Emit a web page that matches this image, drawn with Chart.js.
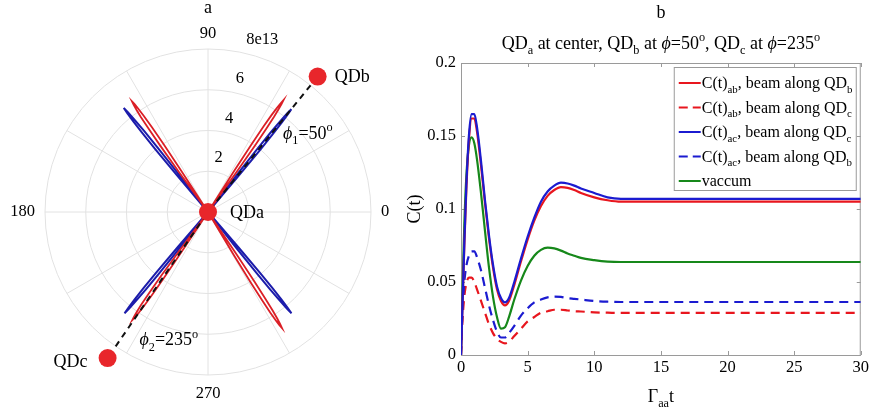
<!DOCTYPE html>
<html>
<head>
<meta charset="utf-8">
<script src="https://cdn.jsdelivr.net/npm/chart.js@4.4.1/dist/chart.umd.min.js"></script>
<style>
  body { margin: 0; background: #fff; width: 872px; height: 414px; overflow: hidden; position: relative; }
  #polar { position: absolute; left: 0; top: 0; }
  #curves { position: absolute; left: 400px; top: 0; }
</style>
</head>
<body>
<canvas id="polar" width="400" height="414"></canvas>
<canvas id="curves" width="472" height="414"></canvas>
<script>
// ---------- panel a : polar beam pattern (r in units of 1e13) ----------
var angleStep = 0.25;
var rTicks = [2, 4, 6, 8];
var rTickLabels = ['2', '4', '6', '8e13'];
var thetaLabels = [0, 90, 180, 270];

// each lobe: radii sampled every angleStep degrees across the lobe, centred on its angle
var redLobeAngles = [56, 124.5, 235, 302.5];
var redLobeRadii = [
    [0, 2.4, 4.0, 5.0, 5.7, 6.1, 6.4, 6.62, 6.4, 6.1, 5.7, 5.0, 4.0, 2.4, 0],
    [0, 2.4, 4.0, 5.0, 5.7, 6.1, 6.4, 6.58, 6.4, 6.1, 5.7, 5.0, 4.0, 2.4, 0],
    [0, 2.3, 3.9, 4.9, 5.6, 6.0, 6.3, 6.48, 6.3, 6.0, 5.6, 4.9, 3.9, 2.3, 0],
    [0, 2.5, 4.1, 5.1, 5.8, 6.25, 6.55, 6.75, 6.55, 6.25, 5.8, 5.1, 4.1, 2.5, 0]
];
var blueLobeAngles = [51, 129, 230.5, 309.5];
var blueLobeRadii = [
    [0, 2.4, 4.0, 5.0, 5.7, 6.2, 6.5, 6.2, 5.7, 5.0, 4.0, 2.4, 0],
    [0, 2.4, 4.0, 5.05, 5.75, 6.25, 6.57, 6.25, 5.75, 5.05, 4.0, 2.4, 0],
    [0, 2.3, 3.9, 4.9, 5.6, 6.1, 6.44, 6.1, 5.6, 4.9, 3.9, 2.3, 0],
    [0, 2.3, 3.9, 4.9, 5.6, 6.1, 6.44, 6.1, 5.6, 4.9, 3.9, 2.3, 0]
];

var beamAngles = [51, 235.5];
var beamRadius = 8;
var qdNames = ['QDa', 'QDb', 'QDc'];
var qdAngles = [0, 51, 235.5];
var qdRadii = [0, 8.55, 8.7];

// ---------- panel b : C(t) versus Gamma_aa t ----------
var tValues = [0, 0.1, 0.25, 0.4, 0.6, 0.8, 1.0, 1.2, 1.5, 1.8, 2.1, 2.4, 2.7, 3.0, 3.3, 3.6, 4.0, 4.5,
    5.0, 5.5, 6.0, 6.5, 7.0, 7.5, 8.0, 8.5, 9.0, 10, 11, 12, 14, 17, 20, 25, 30];
var abAlongB = [0, 0.030, 0.075, 0.113, 0.148, 0.162, 0.162, 0.153, 0.130, 0.104, 0.080, 0.060, 0.045,
    0.037, 0.034, 0.037, 0.048, 0.064, 0.079, 0.092, 0.102, 0.109, 0.113, 0.115, 0.1145, 0.113, 0.111,
    0.108, 0.106, 0.105, 0.105, 0.105, 0.105, 0.105, 0.105];
var abAlongC = [0, 0.022, 0.040, 0.049, 0.053, 0.053, 0.050, 0.045, 0.037, 0.029, 0.021, 0.015, 0.011,
    0.009, 0.008, 0.009, 0.013, 0.018, 0.023, 0.026, 0.029, 0.030, 0.031, 0.031, 0.0305, 0.030, 0.0298,
    0.0292, 0.029, 0.0288, 0.0288, 0.0288, 0.0288, 0.0288, 0.0288];
var acAlongC = [0, 0.031, 0.077, 0.116, 0.151, 0.165, 0.165, 0.156, 0.133, 0.106, 0.082, 0.062, 0.047,
    0.039, 0.036, 0.039, 0.050, 0.066, 0.081, 0.094, 0.105, 0.112, 0.116, 0.118, 0.1175, 0.116, 0.114,
    0.111, 0.108, 0.107, 0.107, 0.107, 0.107, 0.107, 0.107];
var acAlongB = [0, 0.028, 0.050, 0.061, 0.068, 0.071, 0.071, 0.067, 0.058, 0.046, 0.034, 0.024, 0.016,
    0.012, 0.012, 0.015, 0.020, 0.027, 0.032, 0.036, 0.038, 0.0395, 0.040, 0.0398, 0.039, 0.0385, 0.038,
    0.037, 0.0365, 0.0363, 0.0363, 0.0363, 0.0363, 0.0363, 0.0363];
var vacuum = [0, 0.040, 0.090, 0.122, 0.144, 0.149, 0.145, 0.134, 0.111, 0.085, 0.060, 0.040, 0.026,
    0.018, 0.019, 0.026, 0.038, 0.051, 0.061, 0.068, 0.072, 0.0735, 0.073, 0.0715, 0.0695, 0.068, 0.0665,
    0.065, 0.064, 0.0637, 0.0637, 0.0637, 0.0637, 0.0637, 0.0637];
var xTicks = [0, 5, 10, 15, 20, 25, 30];
var yTicks = [0, 0.05, 0.1, 0.15, 0.2];

var RED = '#e8161e', BLUE = '#1b1bd0', GREEN = '#16881a';
var SERIF = '"Liberation Serif", "Times New Roman", serif';

// text with sub/superscripts: parts = [[text, mode]], mode '', 'sub', 'sup', 'it'
function richText(ctx, parts, x, y, size, align) {
    function fontFor(p) {
        var s = (p[1] === 'sub' || p[1] === 'sup') ? size * 0.68 : size;
        return (p[1] === 'it' ? 'italic ' : '') + s + 'px ' + SERIF;
    }
    var w = 0;
    parts.forEach(function (p) { ctx.font = fontFor(p); w += ctx.measureText(p[0]).width; });
    var cx = align === 'center' ? x - w / 2 : (align === 'right' ? x - w : x);
    ctx.textAlign = 'left';
    ctx.textBaseline = 'alphabetic';
    parts.forEach(function (p) {
        ctx.font = fontFor(p);
        var dy = p[1] === 'sub' ? size * 0.3 : (p[1] === 'sup' ? -size * 0.42 : 0);
        ctx.fillText(p[0], cx, y + dy);
        cx += ctx.measureText(p[0]).width;
    });
}

// ----- polar chart -----
var angleLabels = [];
for (var i = 0; i < 360 / angleStep; i++) angleLabels.push((360 - i * angleStep) % 360);

function idx(phi) {
    var a = ((360 - phi) % 360 + 360) % 360;
    return Math.round(a / angleStep) % angleLabels.length;
}
function emptyRing() {
    return angleLabels.map(function () { return null; });
}
function lobes(centers, radii) {
    var d = emptyRing();
    centers.forEach(function (c, k) {
        var half = (radii[k].length - 1) / 2;
        radii[k].forEach(function (r, j) { d[idx(c + (j - half) * angleStep)] = r; });
    });
    return d;
}
var beamData = emptyRing();
beamAngles.forEach(function (a) { beamData[idx(a)] = beamRadius; beamData[idx(a) + 1] = 0; });
var qdData = emptyRing();
qdAngles.forEach(function (a, k) { qdData[idx(a)] = qdRadii[k]; });

var polarText = {
    id: 'polarText',
    afterDraw: function (chart) {
        var s = chart.scales.r, ctx = chart.ctx;
        var at = function (phi, px) { return s.getPointPosition(idx(phi), px); };
        ctx.save();
        ctx.fillStyle = '#000';
        ctx.font = '16.5px ' + SERIF;
        thetaLabels.forEach(function (a) {
            var p = at(a, s.drawingArea + 10);
            ctx.textAlign = a === 0 ? 'left' : (a === 180 ? 'right' : 'center');
            ctx.textBaseline = a === 90 ? 'bottom' : (a === 270 ? 'top' : 'middle');
            ctx.fillText(String(a), p.x, p.y + (a === 90 ? 3 : 0));
        });
        rTicks.forEach(function (v, k) {
            var p = at(75, s.getDistanceFromCenterForValue(v));
            ctx.textAlign = 'left';
            ctx.textBaseline = 'middle';
            ctx.fillText(rTickLabels[k], p.x - 4, p.y - 15);
        });
        ctx.font = '18px ' + SERIF;
        ctx.textAlign = 'center';
        ctx.textBaseline = 'alphabetic';
        ctx.fillText('a', s.xCenter, 13);
        ctx.textBaseline = 'middle';
        qdNames.forEach(function (n, k) {
            var p = at(qdAngles[k], s.getDistanceFromCenterForValue(qdRadii[k]));
            if (k === 2) { ctx.textAlign = 'right'; ctx.fillText(n, p.x - 20, p.y + 4); }
            else { ctx.textAlign = 'left'; ctx.fillText(n, p.x + (k === 0 ? 22 : 17), p.y + 1); }
        });
        var p1 = at(46.5, s.getDistanceFromCenterForValue(5.35));
        richText(ctx, [['ϕ', 'it'], ['1', 'sub'], ['=50', ''], ['o', 'sup']], p1.x, p1.y + 6, 18, 'left');
        var p2 = at(241.7, s.getDistanceFromCenterForValue(7.1));
        richText(ctx, [['ϕ', 'it'], ['2', 'sub'], ['=235', ''], ['o', 'sup']], p2.x, p2.y + 6, 18, 'left');
        ctx.restore();
    }
};

new Chart(document.getElementById('polar'), {
    type: 'radar',
    data: {
        labels: angleLabels,
        datasets: [{
            data: qdData, showLine: false, pointRadius: 9, pointBackgroundColor: '#e8262b',
            pointBorderWidth: 0, borderWidth: 0
        }, {
            data: beamData, borderColor: '#111', borderWidth: 2, borderDash: [6, 5], pointRadius: 0
        }, {
            data: lobes(redLobeAngles, redLobeRadii), borderColor: '#db1f26', borderWidth: 1.8, pointRadius: 0
        }, {
            data: lobes(blueLobeAngles, blueLobeRadii), borderColor: '#1c1cab', borderWidth: 2, pointRadius: 0
        }]
    },
    options: {
        responsive: false,
        devicePixelRatio: 1,
        animation: false,
        spanGaps: false,
        layout: { padding: { left: 45, right: 29, top: 49, bottom: 39 } },
        elements: { line: { tension: 0, fill: false } },
        plugins: { legend: { display: false }, tooltip: { enabled: false } },
        scales: {
            r: {
                startAngle: 90,
                min: 0, max: 8,
                ticks: { stepSize: 2, display: false },
                pointLabels: { display: false },
                grid: { circular: true, color: '#e2e2e2', lineWidth: 1 },
                angleLines: {
                    color: '#e2e2e2',
                    lineWidth: function (c) { return c.index % (30 / angleStep) === 0 ? 1 : 0; }
                }
            }
        }
    },
    plugins: [polarText]
});

// ----- line chart -----
function series(vals) {
    return vals.map(function (v, k) { return { x: tValues[k], y: v }; });
}
var legendItems = [
    { parts: [['C(t)', ''], ['ab', 'sub'], [', beam along QD', ''], ['b', 'sub']], color: RED, dash: [] },
    { parts: [['C(t)', ''], ['ab', 'sub'], [', beam along QD', ''], ['c', 'sub']], color: RED, dash: [9, 5] },
    { parts: [['C(t)', ''], ['ac', 'sub'], [', beam along QD', ''], ['c', 'sub']], color: BLUE, dash: [] },
    { parts: [['C(t)', ''], ['ac', 'sub'], [', beam along QD', ''], ['b', 'sub']], color: BLUE, dash: [9, 5] },
    { parts: [['vaccum', '']], color: GREEN, dash: [] }
];

var frame = {
    id: 'frame',
    beforeDatasetsDraw: function (chart) {
        var a = chart.chartArea, ctx = chart.ctx, x = chart.scales.x, y = chart.scales.y;
        ctx.save();
        ctx.strokeStyle = '#9a9a9a';
        ctx.lineWidth = 1;
        ctx.strokeRect(a.left + 0.5, a.top + 0.5, a.right - a.left - 1, a.bottom - a.top);
        ctx.beginPath();
        xTicks.forEach(function (t) {
            var px = Math.round(x.getPixelForValue(t)) + 0.5;
            ctx.moveTo(px, a.bottom); ctx.lineTo(px, a.bottom - 4);
            ctx.moveTo(px, a.top); ctx.lineTo(px, a.top + 4);
        });
        yTicks.forEach(function (v) {
            var py = Math.round(y.getPixelForValue(v)) + 0.5;
            ctx.moveTo(a.left, py); ctx.lineTo(a.left + 4, py);
            ctx.moveTo(a.right, py); ctx.lineTo(a.right - 4, py);
        });
        ctx.stroke();
        ctx.restore();
    },
    afterDraw: function (chart) {
        var a = chart.chartArea, ctx = chart.ctx;
        var cx = (a.left + a.right) / 2;
        ctx.save();
        ctx.fillStyle = '#000';
        ctx.font = '18px ' + SERIF;
        ctx.textAlign = 'center';
        ctx.fillText('b', cx, 18);
        richText(ctx, [['QD', ''], ['a', 'sub'], [' at center, QD', ''], ['b', 'sub'], [' at ', ''], ['ϕ', 'it'],
            ['=50', ''], ['o', 'sup'], [', QD', ''], ['c', 'sub'], [' at ', ''], ['ϕ', 'it'], ['=235', ''], ['o', 'sup']],
            cx, 49, 18, 'center');
        richText(ctx, [['Γ', ''], ['aa', 'sub'], ['t', '']], cx, 402, 18, 'center');

        // legend box
        var bx = a.right - 187, by = a.top + 4, bw = 182, bh = 123;
        ctx.fillStyle = '#fff';
        ctx.fillRect(bx, by, bw, bh);
        ctx.strokeStyle = '#9a9a9a';
        ctx.lineWidth = 1;
        ctx.strokeRect(bx + 0.5, by + 0.5, bw, bh);
        legendItems.forEach(function (it, k) {
            var base = by + 21 + k * 24.5;
            ctx.strokeStyle = it.color;
            ctx.lineWidth = 2;
            ctx.setLineDash(it.dash);
            ctx.beginPath();
            ctx.moveTo(bx + 5, base - 5);
            ctx.lineTo(bx + 27, base - 5);
            ctx.stroke();
            ctx.setLineDash([]);
            ctx.fillStyle = '#000';
            richText(ctx, it.parts, bx + 28, base, 16, 'left');
        });
        ctx.restore();
    }
};

var tickFont = { family: SERIF, size: 16.5 };
new Chart(document.getElementById('curves'), {
    type: 'line',
    data: {
        datasets: [
            { data: series(acAlongC), borderColor: BLUE, borderWidth: 2.2 },
            { data: series(abAlongB), borderColor: RED, borderWidth: 2.2 },
            { data: series(acAlongB), borderColor: BLUE, borderWidth: 2.2, borderDash: [9, 6] },
            { data: series(abAlongC), borderColor: RED, borderWidth: 2.2, borderDash: [9, 6] },
            { data: series(vacuum), borderColor: GREEN, borderWidth: 2.2 }
        ]
    },
    options: {
        responsive: false,
        devicePixelRatio: 1,
        animation: false,
        layout: { padding: { left: 0, right: 9, top: 63, bottom: 0 } },
        elements: { point: { radius: 0 }, line: { cubicInterpolationMode: 'monotone', fill: false } },
        plugins: { legend: { display: false }, tooltip: { enabled: false } },
        scales: {
            x: {
                type: 'linear', min: 0, max: 30,
                ticks: { stepSize: 5, padding: 3, color: '#000', font: tickFont },
                grid: { display: false, drawTicks: false },
                border: { display: false },
                afterFit: function (s) { s.height = 59; }
            },
            y: {
                min: 0, max: 0.2,
                ticks: {
                    stepSize: 0.05, padding: 5, color: '#000', font: tickFont,
                    callback: function (v) { return String(+v.toFixed(2)); }
                },
                grid: { display: false, drawTicks: false },
                border: { display: false },
                title: { display: true, text: 'C(t)', color: '#000', font: { family: SERIF, size: 18 } },
                afterFit: function (s) { s.width = 61; }
            }
        }
    },
    plugins: [frame]
});
</script>
</body>
</html>
